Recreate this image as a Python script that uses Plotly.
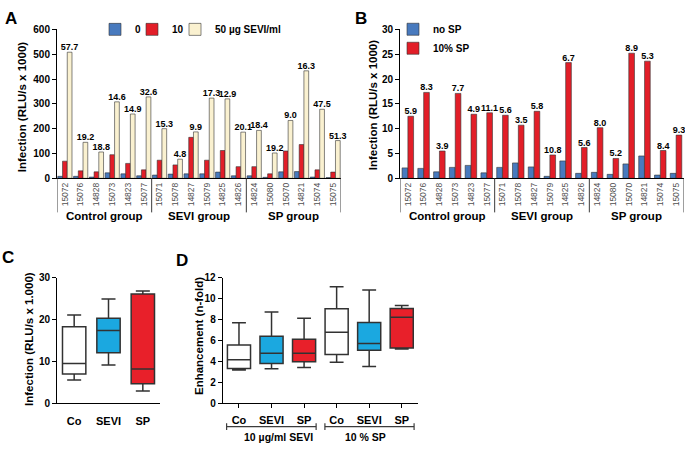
import plotly.graph_objects as go

# ---------------- data ----------------
ids = ["15072", "15076", "14828", "15073", "14823", "15077",
       "15071", "15078", "14827", "15079", "14825", "14826",
       "14824", "15080", "15070", "14821", "15074", "15075"]
groups = ["Control group", "SEVI group", "SP group"]

# Panel A: infection (RLU/s x 1000) with 0, 10, 50 µg SEVI/ml
a_sevi0 = [8, 8, 5, 22, 18, 10, 13, 17, 18, 18, 25, 10, 10, 4, 26, 27, 5, 3]
a_sevi10 = [69, 30, 26, 95, 60, 34, 73, 54, 165, 73, 112, 47, 47, 18, 110, 136, 34, 25]
a_sevi50 = [508, 145, 106, 308, 259, 328, 200, 77, 187, 323, 320, 186, 193, 102, 233, 433, 278, 152]
a_labels = ["57.7", "19.2", "18.8", "14.6", "14.9", "32.6", "15.3", "4.8", "9.9",
            "17.3", "12.9", "20.1", "18.4", "19.2", "9.0", "16.3", "47.5", "51.3"]

# Panel B: infection (RLU/s x 1000) without / with 10% SP
b_nosp = [2.1, 2.0, 1.3, 2.2, 2.6, 1.1, 2.2, 3.1, 2.3, 0.4, 3.5, 1.0, 1.2, 0.8, 2.9, 4.5, 0.65, 1.0]
b_sp10 = [12.5, 17.3, 5.5, 17.1, 12.9, 13.2, 12.7, 10.7, 13.5, 4.7, 23.3, 6.2, 10.2, 4.0, 25.2, 23.6, 5.6, 8.7]
b_labels = ["5.9", "8.3", "3.9", "7.7", "4.9", "11.1", "5.6", "3.5", "5.8",
            "10.8", "6.7", "5.6", "8.0", "5.2", "8.9", "5.3", "8.4", "9.3"]

# Panel C: box stats, infection (RLU/s x 1.000)
c_cats = ["Co", "SEVI", "SP"]
c_low = [5.6, 9.2, 3.0]
c_q1 = [7.0, 12.1, 4.7]
c_med = [9.5, 17.4, 8.2]
c_q3 = [18.3, 20.3, 26.1]
c_high = [21.1, 24.9, 26.8]

# Panel D: box stats, enhancement (n-fold)
d_cats = ["Co", "SEVI", "SP", "Co", "SEVI", "SP"]
d_low = [3.19, 3.31, 3.43, 3.93, 3.53, 5.20]
d_q1 = [3.34, 3.80, 3.99, 4.67, 5.07, 5.29]
d_med = [4.18, 4.79, 4.79, 6.80, 5.72, 8.23]
d_q3 = [5.57, 6.40, 6.12, 9.03, 7.73, 9.06]
d_high = [7.70, 8.72, 8.13, 11.13, 10.83, 9.34]
d_brackets = ["10 µg/ml SEVI", "10 % SP"]

# ---------------- styles ----------------
FONT = "Liberation Sans"
BLUE = "rgb(72,122,190)"
RED = "rgb(226,30,40)"
BEIGE = "rgb(250,241,208)"
CYAN = "rgb(27,168,224)"
BRED = "rgb(232,32,42)"
EDGE = "rgb(50,50,50)"
box_fill = ["white", CYAN, BRED]

W, H = 685, 453


def px(x):
    return x / W


def py(y):
    return (H - y) / H


fig = go.Figure()

bold = dict(family=FONT, weight="bold", color="black")

# Panel A bars (each series in its own small legend box, laid out in a row)
for vals, name, col, off, leg in [(a_sevi0, "0", BLUE, -0.45, "legend"),
                                  (a_sevi10, "10", RED, -0.15, "legend3"),
                                  (a_sevi50, "50 µg SEVI/ml", BEIGE, 0.15, "legend4")]:
    fig.add_trace(go.Bar(
        x=ids, y=vals, name=name, xaxis="x", yaxis="y", legend=leg,
        offset=off, width=0.3,
        marker=dict(color=col, line=dict(color=EDGE, width=0.6)),
        text=a_labels if name.startswith("50") else None,
        textposition="outside", constraintext="none", cliponaxis=False,
        textfont=dict(size=9, **bold),
    ))

# Panel B bars
for vals, name, col, off in [(b_nosp, "no SP", BLUE, -0.37),
                             (b_sp10, "10% SP", RED, 0.0)]:
    fig.add_trace(go.Bar(
        x=ids, y=vals, name=name, xaxis="x2", yaxis="y2", legend="legend2",
        offset=off, width=0.36,
        marker=dict(color=col, line=dict(color=EDGE, width=0.6)),
        text=b_labels if name == "10% SP" else None,
        textposition="outside", constraintext="none", cliponaxis=False,
        textfont=dict(size=9, **bold),
    ))

# Panel C boxes
for i, cat in enumerate(c_cats):
    fig.add_trace(go.Box(
        x=[cat], q1=[c_q1[i]], median=[c_med[i]], q3=[c_q3[i]],
        lowerfence=[c_low[i]], upperfence=[c_high[i]],
        xaxis="x3", yaxis="y3", showlegend=False, orientation="v",
        fillcolor=box_fill[i], line=dict(color=EDGE, width=1.5),
        width=0.68, whiskerwidth=0.6,
    ))

# Panel D boxes
for i in range(len(d_cats)):
    fig.add_trace(go.Box(
        x=[i], q1=[d_q1[i]], median=[d_med[i]], q3=[d_q3[i]],
        lowerfence=[d_low[i]], upperfence=[d_high[i]],
        xaxis="x4", yaxis="y4", showlegend=False, orientation="v",
        fillcolor=box_fill[i % 3], line=dict(color=EDGE, width=1.5),
        width=0.71, whiskerwidth=0.6,
    ))

ytick = dict(size=10, **bold)
common_y = dict(showgrid=False, zeroline=False, showline=True, linecolor="black",
                linewidth=1, ticks="outside", ticklen=4, tickcolor="black",
                tickfont=ytick)
bar_x = dict(type="category", categoryorder="array", categoryarray=ids,
             range=[-0.5, 17.5], tickangle=-90, ticks="", showgrid=False,
             zeroline=False, showline=True, linecolor="black", linewidth=1,
             tickfont=dict(family=FONT, size=8.5, color="rgb(80,80,80)"))

top_dom = [py(177), py(24)]
bot_dom = [py(408.3), py(279)]

leg_common = dict(font=dict(size=10, **bold), bgcolor="rgba(0,0,0,0)", itemwidth=30)

fig.update_layout(
    width=W, height=H, margin=dict(l=0, r=0, t=0, b=0),
    paper_bgcolor="white", plot_bgcolor="white",
    barmode="overlay", boxmode="overlay",
    font=dict(family=FONT, color="black"),
    xaxis=dict(domain=[px(57), px(341)], anchor="y", **bar_x),
    yaxis=dict(domain=top_dom, anchor="x", range=[0, 600], dtick=100, **common_y),
    xaxis2=dict(domain=[px(400), px(684)], anchor="y2", **bar_x),
    yaxis2=dict(domain=top_dom, anchor="x2", range=[0, 30], dtick=5, **common_y),
    xaxis3=dict(domain=[px(57), px(160)], anchor="y3", type="category",
                categoryorder="array", categoryarray=c_cats, range=[-0.5, 2.5],
                showgrid=False, zeroline=False, showline=True, linecolor="black",
                ticks="", ticklabelstandoff=7, tickfont=dict(size=11, **bold)),
    yaxis3=dict(domain=bot_dom, anchor="x3", range=[0, 30], dtick=10, **common_y),
    xaxis4=dict(domain=[px(222.7), px(418)], anchor="y4", range=[-0.5, 5.5],
                tickmode="array", tickvals=list(range(len(d_cats))), ticktext=d_cats,
                showgrid=False, zeroline=False, showline=True, linecolor="black",
                ticks="outside", ticklen=4, tickcolor="black", ticklabelstandoff=2,
                tickfont=dict(size=11, **bold)),
    yaxis4=dict(domain=bot_dom, anchor="x4", range=[0, 12], dtick=2, **common_y),
    legend=dict(orientation="h", x=px(95), xanchor="left", y=py(24),
                yanchor="middle", **leg_common),
    legend3=dict(orientation="h", x=px(132), xanchor="left", y=py(24),
                 yanchor="middle", **leg_common),
    legend4=dict(orientation="h", x=px(175), xanchor="left", y=py(24),
                 yanchor="middle", **leg_common),
    legend2=dict(orientation="v", x=px(393), xanchor="left", y=py(9),
                 yanchor="top", **leg_common),
)

shapes = []
annotations = []
# group dividers and labels for A and B
for xr in ["x", "x2"]:
    for b in [-0.5, 5.5, 11.5, 17.5]:
        shapes.append(dict(type="line", xref=xr, yref="paper", x0=b, x1=b,
                           y0=py(177), y1=py(212), line=dict(color="rgb(60,60,60)", width=1)))
    for gi, g in enumerate(groups):
        annotations.append(dict(text=g, xref=xr, yref="paper", x=gi * 6 + 2.5,
                                y=py(216), showarrow=False, yanchor="middle",
                                font=dict(size=11.5, **bold)))

# D brackets
for (x0, x1), lab, lx in zip([(-0.38, 2.37), (2.64, 5.38)], d_brackets, [1.2, 3.9]):
    yb = py(432)
    shapes.append(dict(type="line", xref="x4", yref="paper", x0=x0, x1=x1,
                       y0=yb, y1=yb, line=dict(color="rgb(60,60,60)", width=1.2)))
    for xe in (x0, x1):
        shapes.append(dict(type="line", xref="x4", yref="paper", x0=xe, x1=xe,
                           y0=py(428.5), y1=py(435.5), line=dict(color="rgb(60,60,60)", width=1.2)))
    annotations.append(dict(text=lab, xref="x4", yref="paper", x=lx, y=py(443),
                            showarrow=False, yanchor="middle",
                            font=dict(size=10.5, **bold)))

# axis titles
for text, x, y in [("Infection (RLU/s x 1000)", 22, 104),
                   ("Infection (RLU/s x 1000)", 373, 102),
                   ("Infection (RLU/s x 1.000)", 29, 342),
                   ("Enhancement (n-fold)", 199, 339)]:
    annotations.append(dict(text=text, xref="paper", yref="paper", x=px(x), y=py(y),
                            textangle=-90, showarrow=False, xanchor="center",
                            yanchor="middle", font=dict(size=11.5, **bold)))

# panel letters
for text, x, y in [("A", 11, 13), ("B", 361, 13), ("C", 8, 258), ("D", 182, 261)]:
    annotations.append(dict(text=text, xref="paper", yref="paper", x=px(x), y=py(y),
                            showarrow=False, xanchor="center", yanchor="middle",
                            font=dict(size=17, **bold)))

fig.update_layout(shapes=shapes, annotations=annotations)

fig.write_html("out.html",
               config={"displayModeBar": False},
               post_script="document.body.style.margin='0px';document.body.style.overflow='hidden';")
